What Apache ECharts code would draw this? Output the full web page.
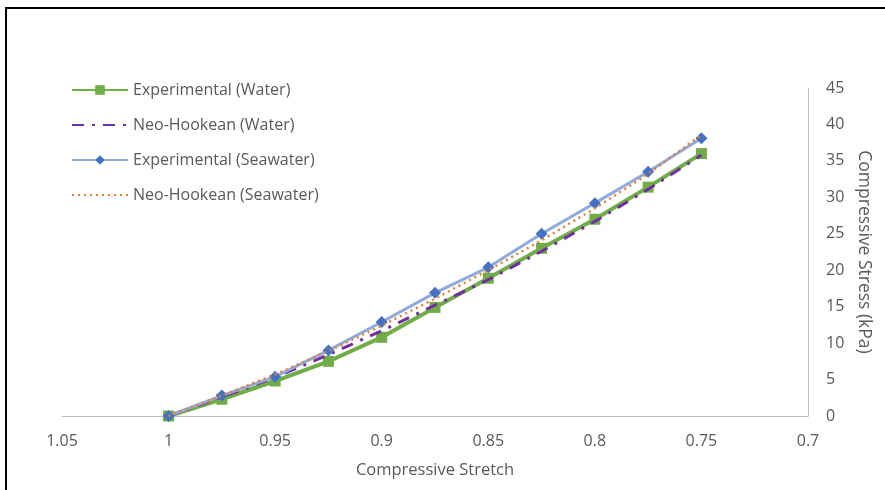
<!DOCTYPE html>
<html><head><meta charset="utf-8">
<script src="https://cdn.jsdelivr.net/npm/echarts@6/dist/echarts.min.js"></script>
<style>html,body{margin:0;padding:0;background:#fff}#c{width:885px;height:490px}</style>
</head><body><div id="c"></div>
<script>
const stretch = [1, 0.975, 0.95, 0.925, 0.9, 0.875, 0.85, 0.825, 0.8, 0.775, 0.75];
const expWater = [0, 2.3, 4.8, 7.5, 10.8, 14.9, 18.9, 23.0, 27.0, 31.4, 36.0];
const neoWater = [0, 2.6, 5.3, 8.4, 11.7, 15.2, 18.7, 22.6, 26.7, 31.1, 35.8];
const expSea = [0, 2.8, 5.4, 9.0, 12.9, 16.9, 20.4, 25.0, 29.2, 33.5, 38.1];
const neoSea = [0, 2.8, 5.7, 8.9, 12.4, 16.1, 20.0, 24.1, 28.5, 33.2, 38.6];
const names = ['Experimental (Water)', 'Neo-Hookean (Water)', 'Experimental (Seawater)', 'Neo-Hookean (Seawater)'];
const pair = arr => stretch.map((x, i) => [x, arr[i]]);
const font = 'Open Sans';
const txt = '#595959';
const chart = echarts.init(document.getElementById('c'));
chart.setOption({
  animation: false,
  textStyle: {fontFamily: font},
  graphic: [{type: 'rect', shape: {x: 6, y: 8, width: 900, height: 500}, style: {fill: 'none', stroke: '#000', lineWidth: 2}}],
  grid: {left: 62, right: 77, top: 88, bottom: 74},
  legend: {
    orient: 'vertical', left: 66, top: 74, itemWidth: 56, itemHeight: 12, itemGap: 13,
    textStyle: {color: txt, fontSize: 16, fontFamily: font, lineHeight: 22},
    data: [
      {name: names[0]},
      {name: names[1], itemStyle: {opacity: 0}},
      {name: names[2]},
      {name: names[3], itemStyle: {opacity: 0}}
    ]
  },
  xAxis: {
    type: 'value', min: 0.7, max: 1.05, interval: 0.05, inverse: true,
    name: 'Compressive Stretch', nameLocation: 'middle', nameGap: 46,
    nameTextStyle: {color: txt, fontSize: 16.5, fontFamily: font},
    axisLine: {lineStyle: {color: '#bfbfbf', width: 1}},
    axisTick: {show: false}, splitLine: {show: false},
    axisLabel: {color: txt, fontSize: 16, margin: 17, formatter: v => String(+v.toFixed(2))}
  },
  yAxis: {
    type: 'value', min: 0, max: 45, interval: 5, position: 'right',
    name: 'Compressive Stress (kPa)', nameLocation: 'middle', nameGap: 41, nameRotate: -90,
    nameTextStyle: {color: txt, fontSize: 17.5, fontFamily: font},
    axisLine: {show: true, onZero: false, lineStyle: {color: '#bfbfbf', width: 1}},
    axisTick: {show: false}, splitLine: {show: false},
    axisLabel: {color: txt, fontSize: 16, margin: 18}
  },
  series: [
    {name: names[0], type: 'line', data: pair(expWater), symbol: 'rect', symbolSize: 11,
     itemStyle: {color: '#70ad47'}, lineStyle: {color: '#70ad47', width: 4}, z: 2},
    {name: names[1], type: 'line', data: pair(neoWater), symbol: 'none',
     itemStyle: {color: '#7030a0'}, lineStyle: {color: '#7030a0', width: 3, type: [12, 8, 3, 8]}, z: 3},
    {name: names[2], type: 'line', data: pair(expSea), symbol: 'diamond', symbolSize: 12,
     itemStyle: {color: '#4472c4'}, lineStyle: {color: '#8faadc', width: 3}, z: 4},
    {name: names[3], type: 'line', data: pair(neoSea), symbol: 'none',
     itemStyle: {color: '#ed7d31'}, lineStyle: {color: '#ed7d31', width: 2.5, type: [2, 4]}, z: 5}
  ]
});
</script></body></html>
